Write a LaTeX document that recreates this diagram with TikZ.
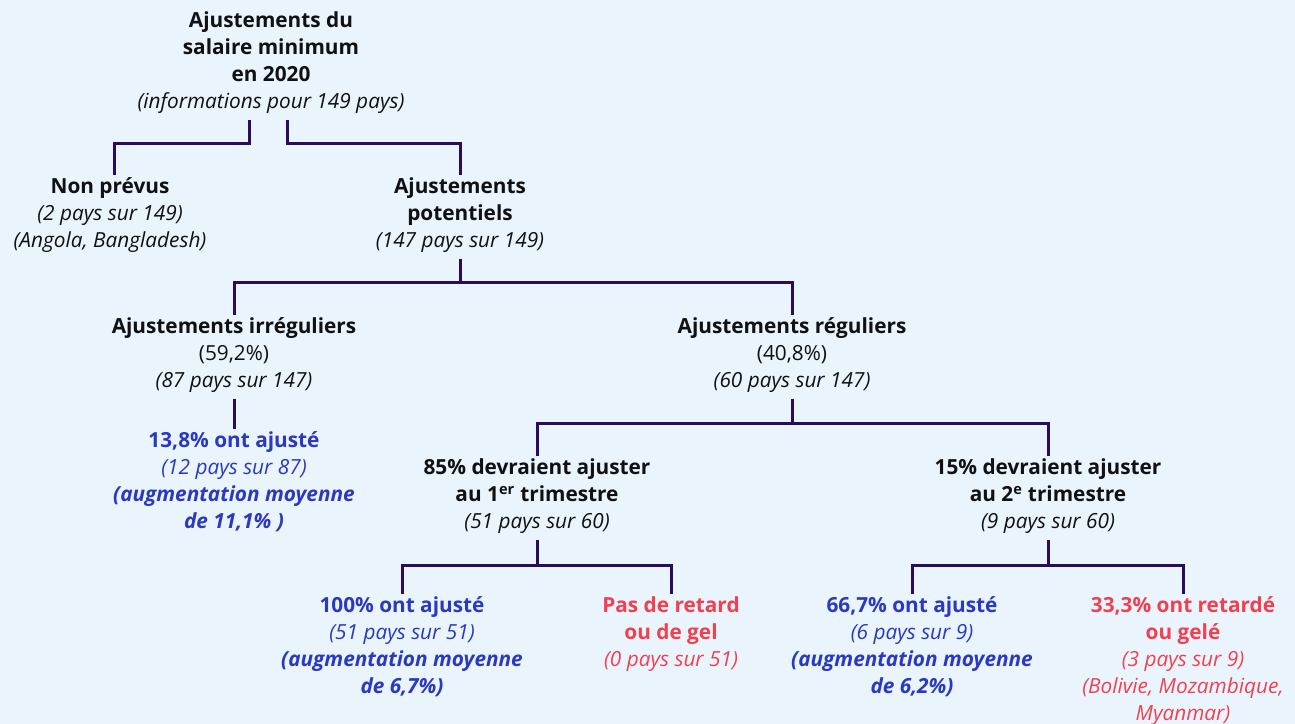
\documentclass[tikz,border=0pt]{standalone}
\usepackage{fontspec}
\setmainfont{Open Sans}
\usetikzlibrary{calc}
\definecolor{bg}{HTML}{EAF4FD}
\definecolor{lin}{HTML}{2A0B5C}
\definecolor{txt}{HTML}{111111}
\definecolor{blu}{HTML}{2B38C0}
\definecolor{rd}{HTML}{F2404F}
\newcommand\lnst{\vrule height14.2pt depth6.1pt width0pt}
\newcommand\bi[1]{\textbf{\textit{#1}}}
\begin{document}
\begin{tikzpicture}[x=0.75pt,y=-0.75pt,
  nd/.style={align=center,inner sep=0pt,outer sep=0pt,anchor=north,
    font=\fontsize{15.6}{20.25}\selectfont,text=txt},
  bnd/.style={nd,text=blu},
  rnd/.style={nd,text=rd},
  conn/.style={draw=lin,line width=2.25pt},
  cstart/.style={conn,shorten <=2.25pt}]
\fill[bg] (0,0) rectangle (1295,724);
\useasboundingbox (0,0) rectangle (1295,724);

% nodes
\node[nd] (root) at (271,8.5) {\lnst\textbf{Ajustements du}\\\textbf{salaire minimum}\\\textbf{en 2020}\\\textit{(informations pour 149 pays)}\lnst};
\node[nd] (np) at (110,174.5) {\lnst\textbf{Non prévus}\\\textit{(2 pays sur 149)}\\\textit{(Angola, Bangladesh)}\lnst};
\node[nd] (pot) at (460,174.5) {\lnst\textbf{Ajustements}\\\textbf{potentiels}\\\textit{(147 pays sur 149)}\lnst};
\node[nd] (irr) at (234,314.5) {\lnst\textbf{Ajustements irréguliers}\\(59,2\%)\\\textit{(87 pays sur 147)}\lnst};
\node[nd] (reg) at (792,314.5) {\lnst\textbf{Ajustements réguliers}\\(40,8\%)\\\textit{(60 pays sur 147)}\lnst};
\node[bnd] (aj) at (234,428.5) {\lnst\textbf{13,8\% ont ajusté}\\\textit{(12 pays sur 87)}\\\bi{(augmentation moyenne}\\\bi{de 11,1\% )}\lnst};
\node[nd] (t1) at (537,455.5) {\lnst\textbf{85\% devraient ajuster}\\\textbf{au 1\textsuperscript{er} trimestre}\\\textit{(51 pays sur 60)}\lnst};
\node[nd] (t2) at (1048,455.5) {\lnst\textbf{15\% devraient ajuster}\\\textbf{au 2\textsuperscript{e} trimestre}\\\textit{(9 pays sur 60)}\lnst};
\node[bnd] (b1) at (402,593.5) {\lnst\textbf{100\% ont ajusté}\\\textit{(51 pays sur 51)}\\\bi{(augmentation moyenne}\\\bi{de 6,7\%)}\lnst};
\node[rnd] (b2) at (671,593.5) {\lnst\textbf{Pas de retard}\\\textbf{ou de gel}\\\textit{(0 pays sur 51)}\lnst};
\node[bnd] (b3) at (912,593.5) {\lnst\textbf{66,7\% ont ajusté}\\\textit{(6 pays sur 9)}\\\bi{(augmentation moyenne}\\\bi{de 6,2\%)}\lnst};
\node[rnd] (b4) at (1183,593.5) {\lnst\textbf{33,3\% ont retardé}\\\textbf{ou gelé}\\\textit{(3 pays sur 9)}\\\textit{(Bolivie, Mozambique,}\\\textit{Myanmar)}\lnst};

% junctions
\coordinate (a1) at (249,143);
\coordinate (a2) at (287,143);
\coordinate (j1) at (460,282);
\coordinate (j2) at (792,423);
\coordinate (j3) at (537,565);
\coordinate (j4) at (1048,565);
\coordinate (npx) at (114,0);

% connectors
\draw[cstart] (root.south -| a1) -- (a1) -| (np.north -| npx);
\draw[cstart] (root.south -| a2) -- (a2) -| (pot.north);
\draw[cstart] (pot.south) -- (pot.south |- j1);
\draw[conn] (j1) -| (irr.north);
\draw[conn] (j1) -| (reg.north);
\draw[cstart] (irr.south) -- (aj.north);
\draw[cstart] (reg.south) -- (reg.south |- j2);
\draw[conn] (j2) -| (t1.north);
\draw[conn] (j2) -| (t2.north);
\draw[cstart] (t1.south) -- (t1.south |- j3);
\draw[conn] (j3) -| (b1.north);
\draw[conn] (j3) -| (b2.north);
\draw[cstart] (t2.south) -- (t2.south |- j4);
\draw[conn] (j4) -| (b3.north);
\draw[conn] (j4) -| (b4.north);
\end{tikzpicture}
\end{document}
